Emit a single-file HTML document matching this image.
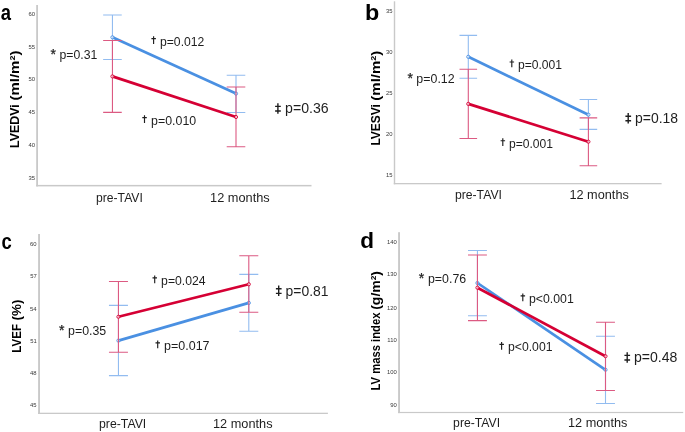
<!DOCTYPE html>
<html><head><meta charset="utf-8"><title>Figure</title>
<style>
html,body{margin:0;padding:0;background:#fff;}
body{width:685px;height:432px;overflow:hidden;}
svg{display:block;font-family:"Liberation Sans", sans-serif;will-change:transform;}
</style></head>
<body>
<svg width="685" height="432" viewBox="0 0 685 432">
<rect width="685" height="432" fill="#fff"/>
<g><rect x="36.2" y="5" width="1.8" height="181.4" fill="#c9c9c9"/><rect x="36.2" y="184.9" width="275.3" height="1.5" fill="#c9c9c9"/><text x="35.14" y="16.33" font-size="5.9" text-anchor="end" fill="#383838">60</text><text x="35.15" y="49" font-size="5.9" text-anchor="end" fill="#383838">55</text><text x="35.14" y="81.43" font-size="5.9" text-anchor="end" fill="#383838">50</text><text x="35.15" y="114.2" font-size="5.9" text-anchor="end" fill="#383838">45</text><text x="35.14" y="146.73" font-size="5.9" text-anchor="end" fill="#383838">40</text><text x="35.15" y="179.53" font-size="5.9" text-anchor="end" fill="#383838">35</text><path d="M112.45 15V59.5M103.15 15H121.75M103.15 59.5H121.75" stroke="#92bcf0" stroke-width="1.1" fill="none"/><path d="M236 75.3V112.5M226.7 75.3H245.3M226.7 112.5H245.3" stroke="#92bcf0" stroke-width="1.1" fill="none"/><line x1="112.45" y1="37.3" x2="236" y2="93.6" stroke="#4a90e2" stroke-width="2.7" stroke-linecap="butt"/><circle cx="112.45" cy="37.3" r="1.6" fill="#ffffff" fill-opacity="0.6" stroke="#4a90e2" stroke-width="0.9"/><circle cx="236" cy="93.6" r="1.6" fill="#ffffff" fill-opacity="0.6" stroke="#4a90e2" stroke-width="0.9"/><path d="M112.45 40.5V112.4M103.15 40.5H121.75M103.15 112.4H121.75" stroke="#dc5a82" stroke-width="1.1" fill="none"/><path d="M236 87V146.7M226.7 87H245.3M226.7 146.7H245.3" stroke="#dc5a82" stroke-width="1.1" fill="none"/><line x1="112.45" y1="76.4" x2="236" y2="117" stroke="#d50034" stroke-width="2.7" stroke-linecap="butt"/><circle cx="112.45" cy="76.4" r="1.6" fill="#ffffff" fill-opacity="0.6" stroke="#d50034" stroke-width="0.9"/><circle cx="236" cy="117" r="1.6" fill="#ffffff" fill-opacity="0.6" stroke="#d50034" stroke-width="0.9"/><text x="0.65" y="19.6" font-size="22.6" font-weight="bold" fill="#000" textLength="10.24" lengthAdjust="spacingAndGlyphs">a</text><text transform="translate(19.2,147.2) rotate(-90)" x="-0.84" y="0" font-size="13.4" font-weight="bold" fill="#000" textLength="43.7" lengthAdjust="spacingAndGlyphs">LVEDVi</text><text transform="translate(19.2,99.8) rotate(-90)" x="-0.75" y="0" font-size="13.4" font-weight="bold" fill="#000" textLength="50.01" lengthAdjust="spacingAndGlyphs">(ml/m²)</text><text x="96.01" y="201.8" font-size="12.2" fill="#1e1e1e" textLength="46.82" lengthAdjust="spacingAndGlyphs">pre-TAVI</text><text x="210.04" y="201.8" font-size="12.2" fill="#1e1e1e" textLength="59.7" lengthAdjust="spacingAndGlyphs">12 months</text><text x="50.45" y="59.05" font-size="14.04" fill="#1e1e1e" stroke="#1e1e1e" stroke-width="0.25">*</text><text x="59.5" y="58.8" font-size="12.1" fill="#1e1e1e" textLength="37.8" lengthAdjust="spacingAndGlyphs">p=0.31</text><path d="M153.6 36.2V43.9M151.4 38.6H155.9" stroke="#1e1e1e" stroke-width="1.15" fill="none"/><text x="160.01" y="45.5" font-size="12.1" fill="#1e1e1e" textLength="44.3" lengthAdjust="spacingAndGlyphs">p=0.012</text><path d="M144.5 115.2V122.9M142.3 117.6H146.8" stroke="#1e1e1e" stroke-width="1.15" fill="none"/><text x="151.1" y="124.5" font-size="12.1" fill="#1e1e1e" textLength="45.07" lengthAdjust="spacingAndGlyphs">p=0.010</text><path d="M277.9 103.2V113.7" stroke="#1e1e1e" stroke-width="1.4" fill="none"/><path d="M275.1 106.4H280.8M275.1 111H280.8" stroke="#1e1e1e" stroke-width="1.4" fill="none"/><text x="285.08" y="113.4" font-size="13.8" fill="#1e1e1e" textLength="43.54" lengthAdjust="spacingAndGlyphs">p=0.36</text></g>
<g><rect x="393.8" y="1.3" width="1.4" height="183" fill="#c9c9c9"/><rect x="393.8" y="183" width="267.8" height="1.3" fill="#c9c9c9"/><text x="392.65" y="13.13" font-size="5.9" text-anchor="end" fill="#383838">35</text><text x="392.64" y="54.23" font-size="5.9" text-anchor="end" fill="#383838">30</text><text x="392.65" y="95.03" font-size="5.9" text-anchor="end" fill="#383838">25</text><text x="392.64" y="136.43" font-size="5.9" text-anchor="end" fill="#383838">20</text><text x="392.65" y="177.2" font-size="5.9" text-anchor="end" fill="#383838">15</text><path d="M468.3 35.4V78.3M459.5 35.4H477.1M459.5 78.3H477.1" stroke="#92bcf0" stroke-width="1.1" fill="none"/><path d="M588.4 99.5V129.4M579.6 99.5H597.2M579.6 129.4H597.2" stroke="#92bcf0" stroke-width="1.1" fill="none"/><line x1="468.3" y1="56.8" x2="588.4" y2="114.7" stroke="#4a90e2" stroke-width="2.7" stroke-linecap="butt"/><circle cx="468.3" cy="56.8" r="1.6" fill="#ffffff" fill-opacity="0.6" stroke="#4a90e2" stroke-width="0.9"/><circle cx="588.4" cy="114.7" r="1.6" fill="#ffffff" fill-opacity="0.6" stroke="#4a90e2" stroke-width="0.9"/><path d="M468.3 69.2V138.5M459.5 69.2H477.1M459.5 138.5H477.1" stroke="#dc5a82" stroke-width="1.1" fill="none"/><path d="M588.4 117.9V165.8M579.6 117.9H597.2M579.6 165.8H597.2" stroke="#dc5a82" stroke-width="1.1" fill="none"/><line x1="468.3" y1="103.9" x2="588.4" y2="141.7" stroke="#d50034" stroke-width="2.7" stroke-linecap="butt"/><circle cx="468.3" cy="103.9" r="1.6" fill="#ffffff" fill-opacity="0.6" stroke="#d50034" stroke-width="0.9"/><circle cx="588.4" cy="141.7" r="1.6" fill="#ffffff" fill-opacity="0.6" stroke="#d50034" stroke-width="0.9"/><text x="364.98" y="20" font-size="22.6" font-weight="bold" fill="#000" textLength="14.27" lengthAdjust="spacingAndGlyphs">b</text><text transform="translate(379.8,144.8) rotate(-90)" x="-0.81" y="0" font-size="13.4" font-weight="bold" fill="#000" textLength="41.54" lengthAdjust="spacingAndGlyphs">LVESVi</text><text transform="translate(379.8,99.9) rotate(-90)" x="-0.75" y="0" font-size="13.4" font-weight="bold" fill="#000" textLength="49.91" lengthAdjust="spacingAndGlyphs">(ml/m²)</text><text x="454.91" y="198.8" font-size="12.2" fill="#1e1e1e" textLength="47.02" lengthAdjust="spacingAndGlyphs">pre-TAVI</text><text x="569.45" y="198.8" font-size="12.2" fill="#1e1e1e" textLength="59.39" lengthAdjust="spacingAndGlyphs">12 months</text><text x="407.45" y="83.15" font-size="14.04" fill="#1e1e1e" stroke="#1e1e1e" stroke-width="0.25">*</text><text x="416.39" y="82.9" font-size="12.1" fill="#1e1e1e" textLength="38.24" lengthAdjust="spacingAndGlyphs">p=0.12</text><path d="M511.8 59.6V67.3M509.6 62H514.1" stroke="#1e1e1e" stroke-width="1.15" fill="none"/><text x="518.01" y="68.9" font-size="12.1" fill="#1e1e1e" textLength="44.06" lengthAdjust="spacingAndGlyphs">p=0.001</text><path d="M502.8 138.3V146M500.6 140.7H505.1" stroke="#1e1e1e" stroke-width="1.15" fill="none"/><text x="509.01" y="147.6" font-size="12.1" fill="#1e1e1e" textLength="44.06" lengthAdjust="spacingAndGlyphs">p=0.001</text><path d="M628.2 113V123.5" stroke="#1e1e1e" stroke-width="1.4" fill="none"/><path d="M625.4 116.2H631.1M625.4 120.8H631.1" stroke="#1e1e1e" stroke-width="1.4" fill="none"/><text x="635.09" y="123.2" font-size="13.8" fill="#1e1e1e" textLength="43.02" lengthAdjust="spacingAndGlyphs">p=0.18</text></g>
<g><rect x="38.1" y="234" width="1.9" height="180" fill="#c9c9c9"/><rect x="38.1" y="412.7" width="289.8" height="1.3" fill="#c9c9c9"/><text x="36.64" y="245.53" font-size="5.9" text-anchor="end" fill="#383838">60</text><text x="36.71" y="278.4" font-size="5.9" text-anchor="end" fill="#383838">57</text><text x="36.58" y="310.6" font-size="5.9" text-anchor="end" fill="#383838">54</text><text x="36.69" y="343.1" font-size="5.9" text-anchor="end" fill="#383838">51</text><text x="36.66" y="375.03" font-size="5.9" text-anchor="end" fill="#383838">48</text><text x="36.65" y="407.3" font-size="5.9" text-anchor="end" fill="#383838">45</text><path d="M118.45 305.4V375.6M108.95 305.4H127.95M108.95 375.6H127.95" stroke="#92bcf0" stroke-width="1.1" fill="none"/><path d="M248.8 274.4V331.25M239.3 274.4H258.3M239.3 331.25H258.3" stroke="#92bcf0" stroke-width="1.1" fill="none"/><line x1="118.45" y1="340.6" x2="248.8" y2="302.9" stroke="#4a90e2" stroke-width="2.7" stroke-linecap="butt"/><circle cx="118.45" cy="340.6" r="1.6" fill="#ffffff" fill-opacity="0.6" stroke="#4a90e2" stroke-width="0.9"/><circle cx="248.8" cy="302.9" r="1.6" fill="#ffffff" fill-opacity="0.6" stroke="#4a90e2" stroke-width="0.9"/><path d="M118.45 281.5V352.2M108.95 281.5H127.95M108.95 352.2H127.95" stroke="#dc5a82" stroke-width="1.1" fill="none"/><path d="M248.8 255.8V312.2M239.3 255.8H258.3M239.3 312.2H258.3" stroke="#dc5a82" stroke-width="1.1" fill="none"/><line x1="118.45" y1="316.8" x2="248.8" y2="284.3" stroke="#d50034" stroke-width="2.7" stroke-linecap="butt"/><circle cx="118.45" cy="316.8" r="1.6" fill="#ffffff" fill-opacity="0.6" stroke="#d50034" stroke-width="0.9"/><circle cx="248.8" cy="284.3" r="1.6" fill="#ffffff" fill-opacity="0.6" stroke="#d50034" stroke-width="0.9"/><text x="1.56" y="248.6" font-size="22.6" font-weight="bold" fill="#000" textLength="10.27" lengthAdjust="spacingAndGlyphs">c</text><text transform="translate(20.8,351.9) rotate(-90)" x="-0.78" y="0" font-size="13.4" font-weight="bold" fill="#000" textLength="28.6" lengthAdjust="spacingAndGlyphs">LVEF</text><text transform="translate(20.8,319.8) rotate(-90)" x="-0.67" y="0" font-size="13.4" font-weight="bold" fill="#000" textLength="20.84" lengthAdjust="spacingAndGlyphs">(%)</text><text x="99" y="427.8" font-size="12.2" fill="#1e1e1e" textLength="47.23" lengthAdjust="spacingAndGlyphs">pre-TAVI</text><text x="213.04" y="427.8" font-size="12.2" fill="#1e1e1e" textLength="59.5" lengthAdjust="spacingAndGlyphs">12 months</text><text x="58.95" y="334.85" font-size="14.04" fill="#1e1e1e" stroke="#1e1e1e" stroke-width="0.25">*</text><text x="68.1" y="334.6" font-size="12.1" fill="#1e1e1e" textLength="38.12" lengthAdjust="spacingAndGlyphs">p=0.35</text><path d="M154.7 275.5V283.2M152.5 277.9H157" stroke="#1e1e1e" stroke-width="1.15" fill="none"/><text x="161.11" y="284.8" font-size="12.1" fill="#1e1e1e" textLength="44.53" lengthAdjust="spacingAndGlyphs">p=0.024</text><path d="M157.7 340.5V348.2M155.5 342.9H160" stroke="#1e1e1e" stroke-width="1.15" fill="none"/><text x="164.09" y="349.8" font-size="12.1" fill="#1e1e1e" textLength="45.44" lengthAdjust="spacingAndGlyphs">p=0.017</text><path d="M278.7 285.6V296.1" stroke="#1e1e1e" stroke-width="1.4" fill="none"/><path d="M275.9 288.8H281.6M275.9 293.4H281.6" stroke="#1e1e1e" stroke-width="1.4" fill="none"/><text x="285.6" y="295.8" font-size="13.8" fill="#1e1e1e" textLength="42.88" lengthAdjust="spacingAndGlyphs">p=0.81</text></g>
<g><rect x="398.1" y="232.2" width="1.9" height="180.9" fill="#c9c9c9"/><rect x="398.1" y="411.9" width="285.1" height="1.2" fill="#c9c9c9"/><text x="396.73" y="243.63" font-size="5.9" text-anchor="end" fill="#383838">140</text><text x="396.73" y="276.33" font-size="5.9" text-anchor="end" fill="#383838">130</text><text x="396.73" y="309.53" font-size="5.9" text-anchor="end" fill="#383838">120</text><text x="396.73" y="342.03" font-size="5.9" text-anchor="end" fill="#383838">110</text><text x="396.73" y="374.43" font-size="5.9" text-anchor="end" fill="#383838">100</text><text x="396.74" y="407.03" font-size="5.9" text-anchor="end" fill="#383838">90</text><path d="M477.45 250.5V315.7M468 250.5H486.9M468 315.7H486.9" stroke="#92bcf0" stroke-width="1.1" fill="none"/><path d="M605.5 336.3V403.5M596.05 336.3H614.95M596.05 403.5H614.95" stroke="#92bcf0" stroke-width="1.1" fill="none"/><line x1="477.45" y1="283" x2="605.5" y2="369.8" stroke="#4a90e2" stroke-width="2.7" stroke-linecap="butt"/><circle cx="477.45" cy="283" r="1.6" fill="#ffffff" fill-opacity="0.6" stroke="#4a90e2" stroke-width="0.9"/><circle cx="605.5" cy="369.8" r="1.6" fill="#ffffff" fill-opacity="0.6" stroke="#4a90e2" stroke-width="0.9"/><path d="M477.45 255V320.6M468 255H486.9M468 320.6H486.9" stroke="#dc5a82" stroke-width="1.1" fill="none"/><path d="M605.5 322.2V390.5M596.05 322.2H614.95M596.05 390.5H614.95" stroke="#dc5a82" stroke-width="1.1" fill="none"/><line x1="477.45" y1="287.7" x2="605.5" y2="356.2" stroke="#d50034" stroke-width="2.7" stroke-linecap="butt"/><circle cx="477.45" cy="287.7" r="1.6" fill="#ffffff" fill-opacity="0.6" stroke="#d50034" stroke-width="0.9"/><circle cx="605.5" cy="356.2" r="1.6" fill="#ffffff" fill-opacity="0.6" stroke="#d50034" stroke-width="0.9"/><text x="360.3" y="248.1" font-size="22.6" font-weight="bold" fill="#000" textLength="13.79" lengthAdjust="spacingAndGlyphs">d</text><text transform="translate(380.1,389.7) rotate(-90)" x="-0.76" y="0" font-size="13.4" font-weight="bold" fill="#000" textLength="77.96" lengthAdjust="spacingAndGlyphs">LV mass index</text><text transform="translate(380.1,309.1) rotate(-90)" x="-0.7" y="0" font-size="13.4" font-weight="bold" fill="#000" textLength="38.79" lengthAdjust="spacingAndGlyphs">(g/m²)</text><text x="453.11" y="426.5" font-size="12.2" fill="#1e1e1e" textLength="47.02" lengthAdjust="spacingAndGlyphs">pre-TAVI</text><text x="568.05" y="426.7" font-size="12.2" fill="#1e1e1e" textLength="59.29" lengthAdjust="spacingAndGlyphs">12 months</text><text x="418.65" y="282.95" font-size="14.04" fill="#1e1e1e" stroke="#1e1e1e" stroke-width="0.25">*</text><text x="428" y="282.7" font-size="12.1" fill="#1e1e1e" textLength="38.15" lengthAdjust="spacingAndGlyphs">p=0.76</text><path d="M522.8 293.5V301.2M520.6 295.9H525.1" stroke="#1e1e1e" stroke-width="1.15" fill="none"/><text x="529" y="302.8" font-size="12.1" fill="#1e1e1e" textLength="44.79" lengthAdjust="spacingAndGlyphs">p&lt;0.001</text><path d="M501.6 342V349.7M499.4 344.4H503.9" stroke="#1e1e1e" stroke-width="1.15" fill="none"/><text x="508.01" y="351.3" font-size="12.1" fill="#1e1e1e" textLength="44.48" lengthAdjust="spacingAndGlyphs">p&lt;0.001</text><path d="M627.2 352.2V362.7" stroke="#1e1e1e" stroke-width="1.4" fill="none"/><path d="M624.4 355.4H630.1M624.4 360H630.1" stroke="#1e1e1e" stroke-width="1.4" fill="none"/><text x="633.99" y="362.4" font-size="13.8" fill="#1e1e1e" textLength="43.43" lengthAdjust="spacingAndGlyphs">p=0.48</text></g>
</svg>
</body></html>
